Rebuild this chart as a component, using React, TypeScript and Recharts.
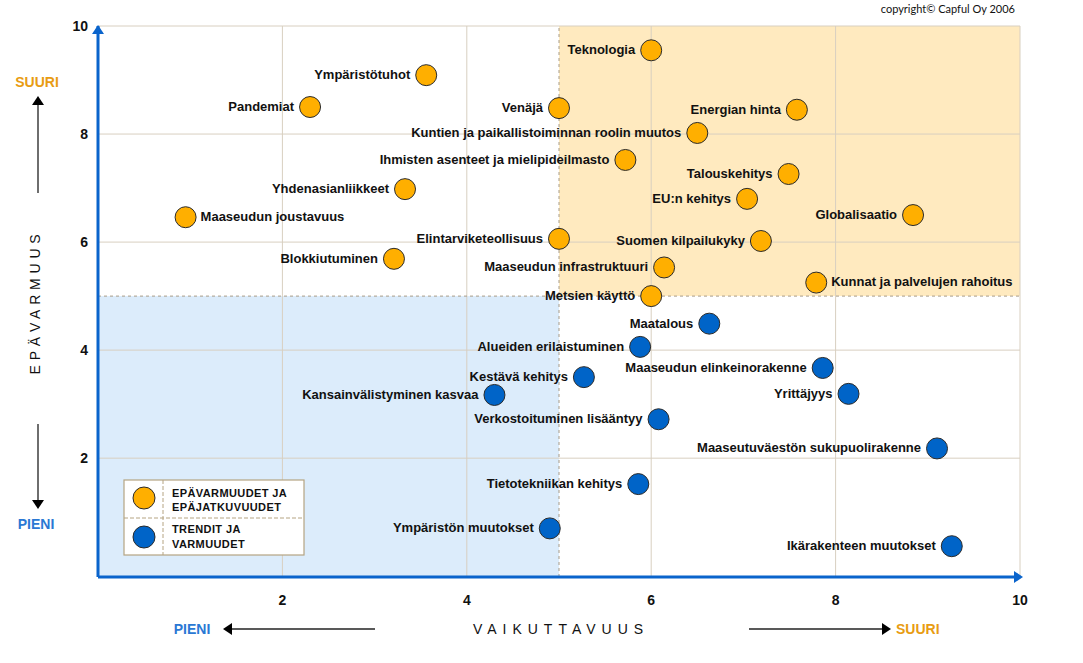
import {
  ScatterChart,
  Scatter,
  XAxis,
  YAxis,
  ReferenceArea,
  ReferenceLine,
  ReferenceDot,
} from 'recharts';

// epävarmuudet ja epäjatkuvuudet (orange)
const uncertaintyNames = [
  'Teknologia',
  'Ympäristötuhot',
  'Pandemiat',
  'Venäjä',
  'Energian hinta',
  'Kuntien ja paikallistoiminnan roolin muutos',
  'Ihmisten asenteet ja mielipideilmasto',
  'Talouskehitys',
  'Yhdenasianliikkeet',
  'EU:n kehitys',
  'Globalisaatio',
  'Maaseudun joustavuus',
  'Elintarviketeollisuus',
  'Suomen kilpailukyky',
  'Blokkiutuminen',
  'Maaseudun infrastruktuuri',
  'Kunnat ja palvelujen rahoitus',
  'Metsien käyttö',
];
const uncertaintyImpact = [6.0, 3.56, 2.3, 5.0, 7.58, 6.5, 5.72, 7.49, 3.33, 7.04, 8.84, 0.95, 5.0, 7.19, 3.21, 6.14, 7.79, 6.0];
const uncertaintyLevel = [9.55, 9.09, 8.5, 8.48, 8.45, 8.02, 7.52, 7.26, 6.98, 6.8, 6.5, 6.46, 6.06, 6.02, 5.69, 5.53, 5.25, 5.0];

// trendit ja varmuudet (blue)
const trendNames = [
  'Maatalous',
  'Alueiden erilaistuminen',
  'Maaseudun elinkeinorakenne',
  'Kestävä kehitys',
  'Yrittäjyys',
  'Kansainvälistyminen kasvaa',
  'Verkostoituminen lisääntyy',
  'Maaseutuväestön sukupuolirakenne',
  'Tietotekniikan kehitys',
  'Ympäristön muutokset',
  'Ikärakenteen muutokset',
];
const trendImpact = [6.63, 5.88, 7.86, 5.27, 8.14, 4.3, 6.08, 9.1, 5.86, 4.9, 9.26];
const trendLevel = [4.49, 4.06, 3.67, 3.5, 3.19, 3.17, 2.72, 2.18, 1.52, 0.7, 0.37];

const xTicks = [2, 4, 6, 8, 10];
const yTicks = [2, 4, 6, 8, 10];
const labelsOnRight = ['Maaseudun joustavuus', 'Kunnat ja palvelujen rahoitus'];

const FONT = '"Liberation Sans", Arial, sans-serif';
const ORANGE = '#FFAF00';
const BLUE = '#0064C8';
const AXIS_BLUE = '#0A64CC';
const GRID = '#D8CFC0';

const uncertainties = uncertaintyNames.map((name, i) => ({ name, x: uncertaintyImpact[i], y: uncertaintyLevel[i] }));
const trends = trendNames.map((name, i) => ({ name, x: trendImpact[i], y: trendLevel[i] }));

function bubble(color: string) {
  return (props: any) => {
    const { cx, cy, payload } = props;
    const right = labelsOnRight.includes(payload.name);
    return (
      <g>
        <circle cx={cx} cy={cy} r={10.5} fill={color} stroke="#2a2a2a" strokeWidth={1} />
        <text
          x={right ? cx + 15 : cx - 16}
          y={cy}
          dy="0.3em"
          textAnchor={right ? 'start' : 'end'}
          fontFamily={FONT}
          fontSize={13}
          fontWeight="bold"
          fill="#111"
        >
          {payload.name}
        </text>
      </g>
    );
  };
}

const tickStyle = { fill: '#111', fontSize: 14, fontWeight: 'bold', fontFamily: FONT };

export default function App() {
  return (
    <div style={{ position: 'absolute', left: 0, top: 0, width: 1083, height: 663, background: '#fff' }}>
      <ScatterChart width={1083} height={663} margin={{ top: 26, right: 63, bottom: 56, left: 58 }}>
        <ReferenceArea x1={5} x2={10} y1={5} y2={10} fill="#FFEABF" fillOpacity={1} stroke="none" />
        <ReferenceArea x1={0} x2={5} y1={-0.2} y2={5} fill="#DCECFB" fillOpacity={1} stroke="none" />
        {xTicks.map((t) => (
          <ReferenceLine key={'gx' + t} x={t} stroke={GRID} strokeWidth={1} />
        ))}
        {yTicks.map((t) => (
          <ReferenceLine key={'gy' + t} y={t} stroke={GRID} strokeWidth={1} />
        ))}
        <ReferenceLine x={5} stroke="#A89C88" strokeDasharray="3 3" />
        <ReferenceLine y={5} stroke="#A89C88" strokeDasharray="3 3" />
        <XAxis
          type="number"
          dataKey="x"
          domain={[0, 10]}
          ticks={xTicks}
          height={30}
          axisLine={{ stroke: AXIS_BLUE, strokeWidth: 3 }}
          tickLine={false}
          tickSize={8}
          tickMargin={10}
          tick={tickStyle}
        />
        <YAxis
          type="number"
          dataKey="y"
          domain={[-0.2, 10]}
          ticks={yTicks}
          width={40}
          axisLine={{ stroke: AXIS_BLUE, strokeWidth: 3 }}
          tickLine={false}
          tickSize={4}
          tickMargin={6}
          tick={tickStyle}
        />
        <ReferenceDot
          x={0}
          y={10}
          r={6}
          ifOverflow="visible"
          shape={(p: any) => (
            <path d={`M${p.cx},${p.cy - 1} L${p.cx - 6},${p.cy + 8} L${p.cx + 6},${p.cy + 8} Z`} fill={AXIS_BLUE} />
          )}
        />
        <ReferenceDot
          x={10}
          y={-0.2}
          r={6}
          ifOverflow="visible"
          shape={(p: any) => (
            <path d={`M${p.cx + 3},${p.cy} L${p.cx - 6},${p.cy - 6} L${p.cx - 6},${p.cy + 6} Z`} fill={AXIS_BLUE} />
          )}
        />
        <Scatter name="Epävarmuudet ja epäjatkuvuudet" data={uncertainties} shape={bubble(ORANGE)} isAnimationActive={false} />
        <Scatter name="Trendit ja varmuudet" data={trends} shape={bubble(BLUE)} isAnimationActive={false} />
      </ScatterChart>

      <svg width={1083} height={663} style={{ position: 'absolute', left: 0, top: 0, pointerEvents: 'none' }}>
        <text x={1015} y={13} textAnchor="end" fontFamily="Lato, sans-serif" fontSize={11} fill="#111">
          copyright© Capful Oy 2006
        </text>

        {/* y side */}
        <text x={37} y={87} textAnchor="middle" fontFamily={FONT} fontSize={14} fontWeight="bold" fill="#E89C12">SUURI</text>
        <line x1={38} y1={193} x2={38} y2={104} stroke="#6e6e6e" strokeWidth={2} />
        <path d="M38,96 L32,105 L44,105 Z" fill="#000" />
        <text
          x={35}
          y={302}
          transform="rotate(-90 35 302)"
          textAnchor="middle"
          dy="0.35em"
          fontFamily={FONT}
          fontSize={14}
          letterSpacing={4.8}
          fill="#111"
        >
          EPÄVARMUUS
        </text>
        <line x1={38} y1={424} x2={38} y2={501} stroke="#6e6e6e" strokeWidth={2} />
        <path d="M38,509 L32,500 L44,500 Z" fill="#000" />
        <text x={36} y={529} textAnchor="middle" fontFamily={FONT} fontSize={14} fontWeight="bold" fill="#2A78D4">PIENI</text>

        {/* x side */}
        <text x={192} y={634} textAnchor="middle" fontFamily={FONT} fontSize={14} fontWeight="bold" fill="#2A78D4">PIENI</text>
        <line x1={375} y1={629} x2={231} y2={629} stroke="#222" strokeWidth={1.5} />
        <path d="M223,629 L232,623 L232,635 Z" fill="#000" />
        <text x={561} y={634} textAnchor="middle" fontFamily={FONT} fontSize={14} letterSpacing={6} fill="#111">VAIKUTTAVUUS</text>
        <line x1={749} y1={629} x2={883} y2={629} stroke="#222" strokeWidth={1.5} />
        <path d="M891,629 L882,623 L882,635 Z" fill="#000" />
        <text x={896} y={634} fontFamily={FONT} fontSize={14} fontWeight="bold" fill="#E89C12">SUURI</text>

        {/* legend */}
        <rect x={124} y={480} width={180} height={75} fill="#fff" stroke="#B5A482" strokeWidth={1.2} />
        <line x1={163} y1={480} x2={163} y2={555} stroke="#B5A482" strokeDasharray="4 2" />
        <line x1={124} y1={518} x2={304} y2={518} stroke="#B5A482" strokeDasharray="4 2" />
        <circle cx={144} cy={498} r={11} fill={ORANGE} stroke="#2a2a2a" />
        <circle cx={144} cy={537} r={11} fill={BLUE} stroke="#2a2a2a" />
        <g fontFamily={FONT} fontSize={11} fontWeight="bold" fill="#111" letterSpacing={0.4}>
          <text x={172} y={497}>EPÄVARMUUDET JA</text>
          <text x={172} y={511}>EPÄJATKUVUUDET</text>
          <text x={172} y={533}>TRENDIT JA</text>
          <text x={172} y={548}>VARMUUDET</text>
        </g>
      </svg>
    </div>
  );
}
